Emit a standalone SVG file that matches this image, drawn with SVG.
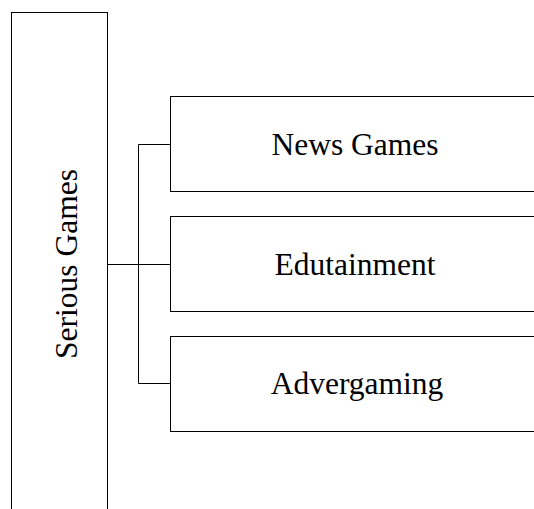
<svg xmlns="http://www.w3.org/2000/svg" width="534" height="509" viewBox="0 0 534 509">
<style>
.box{fill:#fff;stroke:#000;stroke-width:1}
.lbl{font-family:"Liberation Serif","Times New Roman",serif;font-size:31.5px;fill:#000;text-anchor:middle}
.con{fill:none;stroke:#000;stroke-width:1}
</style>
<rect width="534" height="509" fill="#fff"/>
<g id="serious-games">
<rect class="box" x="11.5" y="12.5" width="96" height="520"/>
<text class="lbl" transform="translate(76.5,264) rotate(-90)">Serious Games</text>
</g>
<g id="news-games">
<rect class="box" x="170.5" y="96.5" width="380" height="95"/>
<text class="lbl" x="355" y="155">News Games</text>
</g>
<g id="edutainment">
<rect class="box" x="170.5" y="216.5" width="380" height="95"/>
<text class="lbl" x="355" y="275">Edutainment</text>
</g>
<g id="advergaming">
<rect class="box" x="170.5" y="336.5" width="380" height="95"/>
<text class="lbl" x="357" y="394">Advergaming</text>
</g>
<g id="connectors">
<path class="con" d="M107.5 264.5H170.5"/>
<path class="con" d="M170.5 144.5H138.5V383.5H170.5"/>
</g>
</svg>
